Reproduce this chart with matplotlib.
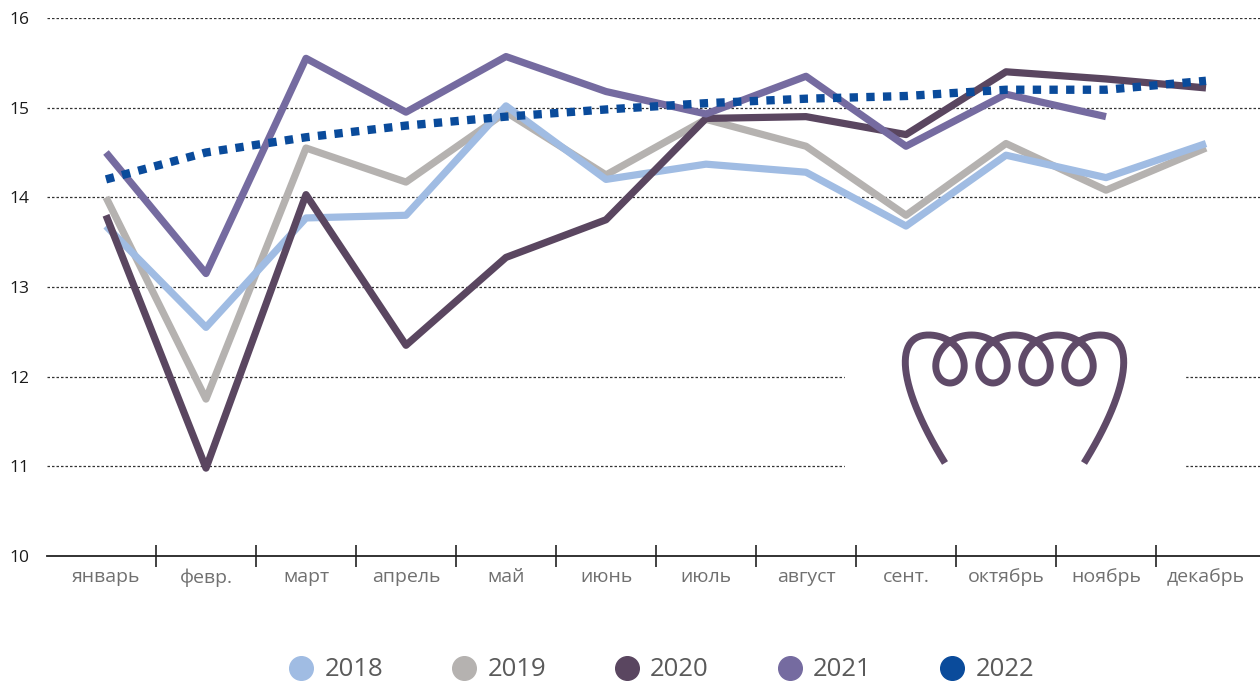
import matplotlib.pyplot as plt
import numpy as np
from matplotlib.lines import Line2D
from matplotlib.patches import Rectangle

plt.rcParams['font.family'] = ['Open Sans', 'DejaVu Sans']

months = ['январь', 'февр.', 'март', 'апрель', 'май', 'июнь', 'июль',
          'август', 'сент.', 'октябрь', 'ноябрь', 'декабрь']
years = ['2018', '2019', '2020', '2021', '2022']

v2018 = [13.68, 12.55, 13.77, 13.80, 15.02, 14.20, 14.37, 14.28, 13.68, 14.47, 14.22, 14.60]
v2019 = [14.00, 11.75, 14.55, 14.17, 14.95, 14.25, 14.87, 14.57, 13.80, 14.60, 14.08, 14.55]
v2020 = [13.80, 10.98, 14.03, 12.35, 13.33, 13.75, 14.88, 14.90, 14.70, 15.40, 15.32, 15.22]
v2021 = [14.50, 13.15, 15.55, 14.95, 15.57, 15.18, 14.93, 15.35, 14.57, 15.15, 14.90]
v2022 = [14.20, 14.50, 14.67, 14.80, 14.90, 14.98, 15.05, 15.10, 15.13, 15.20, 15.20, 15.30]

colors = ['#a0bce3', '#b5b2b0', '#5a4660', '#756ba0', '#0a4b9b']

fig = plt.figure(figsize=(12.6, 6.86), dpi=100)
ax = fig.add_axes([47 / 1260, 130 / 686, 1 - 47 / 1260, 538 / 686])

x = np.arange(12)
ax.plot(x, v2019, color=colors[1], lw=5.2, zorder=3, solid_capstyle='butt')
ax.plot(x, v2018, color=colors[0], lw=5.2, zorder=4, solid_capstyle='butt')
ax.plot(x, v2020, color=colors[2], lw=5.2, zorder=5, solid_capstyle='butt')
ax.plot(x[:len(v2021)], v2021, color=colors[3], lw=5.2, zorder=6, solid_capstyle='butt')
ax.plot(x, v2022, color=colors[4], lw=6, zorder=7, linestyle=(0, (1, 1)),
        dash_capstyle='butt')

ax.set_xlim(-0.59, 11.54)
ax.set_ylim(10, 16)
ax.set_yticks(range(10, 17))
ax.tick_params(axis='y', length=0, pad=13, labelsize=12.5, labelcolor='#1a1a1a')
ax.set_xticks(x, months)
ax.tick_params(axis='x', which='major', length=0, pad=9, labelsize=14, labelcolor='#707070')
ax.set_xticks(np.arange(11) + 0.5, minor=True)
ax.tick_params(axis='x', which='minor', length=16, direction='inout', width=1.2, color='#222')

# dotted gridlines
for v in range(11, 17):
    ax.axhline(v, color='#333', lw=0.9, linestyle=(0, (2, 1.6)), zorder=1)

for s in ['top', 'right', 'left']:
    ax.spines[s].set_visible(False)
ax.spines['bottom'].set_linewidth(1.3)
ax.spines['bottom'].set_color('#222')

# logo overlay in pixel coordinates
ov = fig.add_axes([0, 0, 1, 1])
ov.set_xlim(0, 1260)
ov.set_ylim(686, 0)
ov.axis('off')
ov.add_patch(Rectangle((845, 300), 340, 200, color='white', zorder=1))

a, b = 43 / (2 * np.pi), 24
t = np.linspace(-np.pi, 7 * np.pi, 800)
cx = 950 + a * t - b * np.sin(t)
cy = 359 + b * np.cos(t)


def bezier(p0, p1, p2, p3, n=60):
    s = np.linspace(0, 1, n)[:, None]
    pts = ((1 - s) ** 3 * np.array(p0) + 3 * (1 - s) ** 2 * s * np.array(p1)
           + 3 * (1 - s) * s ** 2 * np.array(p2) + s ** 3 * np.array(p3))
    return pts[:, 0], pts[:, 1]


lx, ly = bezier((945, 463), (898, 387), (893, 335), (cx[0], cy[0]))
mid = (cx[0] + cx[-1]) / 2
rx, ry = bezier((cx[-1], cy[-1]), (2 * mid - 893, 335), (2 * mid - 898, 387), (2 * mid - 945, 463))
px = np.concatenate([lx, cx, rx])
py = np.concatenate([ly, cy, ry])
ov.plot(px, py, color='#5f4a68', lw=5, solid_capstyle='butt', zorder=2)

handles = [Line2D([], [], marker='o', linestyle='none', markersize=17,
                  markerfacecolor=c, markeredgecolor=c) for c in colors]
fig.legend(handles, years, loc='center', bbox_to_anchor=(660 / 1260, 1 - 670 / 686),
           ncol=5, frameon=False, fontsize=18.5, labelcolor='#5a5a5a',
           handletextpad=0.3, columnspacing=2.55, handlelength=1.2)

fig.savefig('out.png', dpi=100)
